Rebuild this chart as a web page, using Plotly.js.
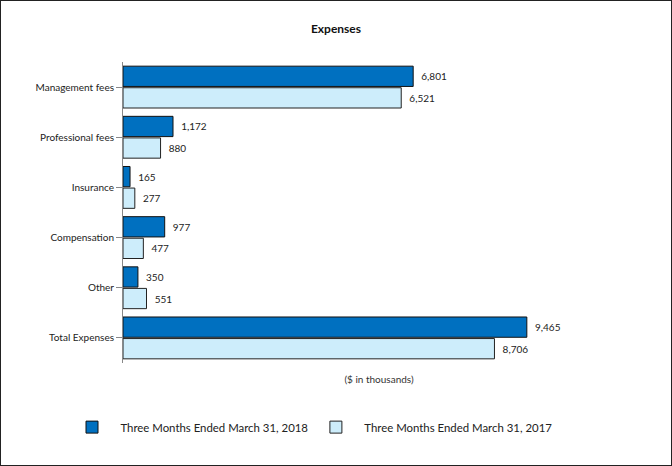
<!DOCTYPE html>
<html><head><meta charset="utf-8">
<script src="https://cdn.plot.ly/plotly-3.0.1.min.js"></script>
<style>
html,body{margin:0;padding:0;background:#fff;}
#wrap{position:absolute;left:0;top:0;width:670px;height:464px;border:1px solid #222;}
#chart{width:670px;height:464px;}
</style></head>
<body><div id="wrap"><div id="chart"></div></div>
<script>
const categories = ["Management fees","Professional fees","Insurance","Compensation","Other","Total Expenses"];
const series2018 = [6801,1172,165,977,350,9465];
const series2017 = [6521,880,277,477,551,8706];
const seriesNames = ["Three Months Ended March 31, 2018","Three Months Ended March 31, 2017"];
const fmt = v => v.toLocaleString("en-US");
const FONT = "Lato, 'Open Sans', sans-serif";
const pad = "&nbsp;&nbsp;&nbsp;";
const traces = [
  {type:"bar",orientation:"h",name:pad+seriesNames[0]+"&nbsp;",y:categories,x:series2018,
   marker:{color:"#0070C0",line:{color:"#111",width:1}},
   text:series2018.map(v=>"  "+fmt(v)),textposition:"outside",cliponaxis:false,
   textfont:{family:FONT,size:10,color:"#222"}},
  {type:"bar",orientation:"h",name:pad+seriesNames[1],y:categories,x:series2017,
   marker:{color:"#CDEDFB",line:{color:"#222",width:1}},
   text:series2017.map(v=>"  "+fmt(v)),textposition:"outside",cliponaxis:false,
   textfont:{family:FONT,size:10,color:"#222"}}
];
const layout = {
  width:670,height:464,
  margin:{l:122,r:36,t:61,b:102},
  paper_bgcolor:"#fff",plot_bgcolor:"#fff",
  font:{family:FONT,size:10,color:"#222"},
  title:{text:"<b>Expenses</b>",x:0.5,xanchor:"center",y:0.94,yanchor:"middle",font:{family:FONT,size:12,color:"#111"}},
  barmode:"group",bargap:0.14,bargroupgap:0.06,
  showlegend:true,
  legend:{orientation:"h",x:-0.0996,xref:"paper",y:-0.213,yanchor:"middle",xanchor:"left",
    font:{family:FONT,size:11.4,color:"#222"},itemwidth:30,traceorder:"normal"},
  xaxis:{range:[0,12000],showgrid:false,zeroline:false,showticklabels:false,ticks:"",showline:false,
    title:{text:"($ in thousands)",standoff:12,font:{family:FONT,size:10,color:"#333"}}},
  yaxis:{autorange:"reversed",showline:true,linecolor:"#888",linewidth:1,ticks:"outside",ticklen:6,tickcolor:"#888",
    showgrid:false,tickfont:{family:FONT,size:10,color:"#222"}}
};
Plotly.newPlot("chart",traces,layout,{displayModeBar:false,staticPlot:true});
</script></body></html>
